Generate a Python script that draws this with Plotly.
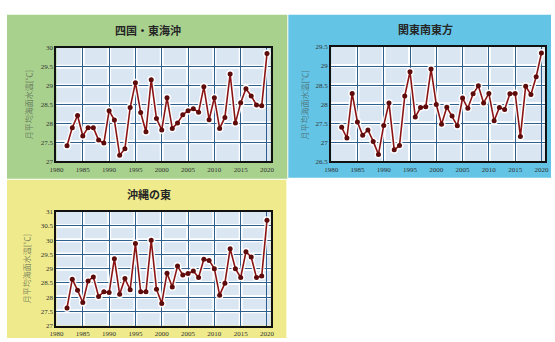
import plotly.graph_objects as go

# Annual sea surface temperature (August mean, °C) in three sea areas
years = list(range(1982, 2021))

shikoku_tokai = [27.41, 27.89, 28.21, 27.67, 27.89, 27.89, 27.56, 27.48, 28.34, 28.09,
                 27.16, 27.33, 28.42, 29.08, 28.29, 27.78, 29.16, 28.13, 27.83, 28.68,
                 27.87, 28.01, 28.23, 28.34, 28.39, 28.30, 28.97, 28.10, 28.68, 27.87,
                 28.16, 29.31, 28.01, 28.55, 28.92, 28.73, 28.49, 28.47, 29.85]

kanto_se = [27.39, 27.11, 28.28, 27.53, 27.18, 27.32, 27.02, 26.68, 27.44, 28.03,
            26.80, 26.91, 28.21, 28.85, 27.66, 27.91, 27.93, 28.92, 27.99, 27.47,
            27.92, 27.69, 27.43, 28.16, 27.89, 28.27, 28.48, 28.03, 28.28, 27.56,
            27.91, 27.86, 28.27, 28.28, 27.15, 28.47, 28.25, 28.72, 29.34]

okinawa_east = [27.62, 28.63, 28.24, 27.81, 28.57, 28.71, 28.02, 28.19, 28.16, 29.35,
                28.10, 28.65, 28.26, 29.88, 28.19, 28.19, 30.00, 28.28, 27.78, 28.84,
                28.36, 29.09, 28.78, 28.83, 28.92, 28.69, 29.33, 29.29, 29.00, 28.07,
                28.49, 29.70, 29.00, 28.69, 29.59, 29.41, 28.69, 28.74, 30.70]

titles = ["四国・東海沖", "関東南東方", "沖縄の東"]
y_label = "月平均海面水温[℃]"
x_ticks = list(range(1980, 2021, 5))

W, H = 555, 342


def px(x):
    return x / W


def py(y):
    return 1 - y / H


# panel geometry in pixels: background box, plot area, y range, colour
panels = [
    dict(data=shikoku_tokai, title=titles[0], box=(0, 11, 286, 179),
         area=(50.5, 45, 269, 161), yr=(27, 30), bg="#a9d18e",
         tpos=(144, 27), lpos=(22, 103)),
    dict(data=kanto_se, title=titles[1], box=(287, 11, 555, 178),
         area=(330.7, 44, 549, 161), yr=(26.5, 29.5), bg="#63c4e6",
         tpos=(427, 26), lpos=(304, 103)),
    dict(data=okinawa_east, title=titles[2], box=(0, 180, 285, 342),
         area=(50.5, 212.7, 269, 329.3), yr=(27, 31), bg="#efeb8c",
         tpos=(145, 195), lpos=(20, 271)),
]

fig = go.Figure()
shapes = []
annotations = []
xrange_ = [1980, 2020.7]

for i, p in enumerate(panels):
    n = "" if i == 0 else str(i + 1)
    xa, ya = "x" + n, "y" + n
    x0, y0, x1, y1 = p["area"]
    bx0, by0, bx1, by1 = p["box"]

    # coloured panel behind each chart
    shapes.append(dict(type="rect", xref="paper", yref="paper",
                       x0=px(bx0), x1=px(bx1), y0=py(by1), y1=py(by0),
                       fillcolor=p["bg"], line=dict(width=0), layer="below"))
    # plot area fill
    shapes.append(dict(type="rect", xref=xa + " domain", yref=ya + " domain",
                       x0=0, x1=1, y0=0, y1=1, fillcolor="#dbe6f3",
                       line=dict(width=0), layer="below"))
    # soft white edges around the grid lines
    for xv in range(1985, 2020, 5):
        shapes.append(dict(type="line", xref=xa, yref=ya + " domain",
                           x0=xv, x1=xv, y0=0, y1=1,
                           line=dict(color="rgba(255,255,255,0.95)", width=4),
                           layer="below"))
    lo, hi = p["yr"]
    v = lo + 0.5
    while v < hi - 1e-9:
        shapes.append(dict(type="line", xref=xa + " domain", yref=ya,
                           x0=0, x1=1, y0=v, y1=v,
                           line=dict(color="rgba(255,255,255,0.95)", width=4),
                           layer="below"))
        v += 0.5

    # white halo under the series
    fig.add_trace(go.Scatter(x=years, y=p["data"], mode="lines+markers",
                             line=dict(color="rgba(255,255,255,0.9)", width=4.5),
                             marker=dict(size=8, color="rgba(255,255,255,0.9)"),
                             xaxis=xa, yaxis=ya, hoverinfo="skip",
                             showlegend=False))
    fig.add_trace(go.Scatter(x=years, y=p["data"], mode="lines+markers",
                             line=dict(color="#8a1414", width=1.6),
                             marker=dict(size=5, color="#5e0b0b"),
                             xaxis=xa, yaxis=ya, name=p["title"],
                             showlegend=False))

    axis_font = dict(family="Liberation Serif, serif", size=7, color="#333333")
    fig.layout["xaxis" + n] = dict(
        domain=[px(x0), px(x1)], anchor=ya, range=xrange_,
        tickmode="array", tickvals=x_ticks, ticktext=[str(t) for t in x_ticks],
        showgrid=True, gridcolor="#2f5f8c", gridwidth=1.2,
        showline=True, linecolor="#111111", linewidth=2, mirror=True,
        ticks="", tickfont=axis_font, zeroline=False, fixedrange=True,
    )
    fig.layout["yaxis" + n] = dict(
        domain=[py(y1), py(y0)], anchor=xa, range=list(p["yr"]),
        dtick=0.5, tick0=p["yr"][0],
        showgrid=True, gridcolor="#2f5f8c", gridwidth=1.2,
        showline=True, linecolor="#111111", linewidth=2, mirror=True,
        ticks="", tickfont=axis_font, zeroline=False, fixedrange=True,
    )

    annotations.append(dict(text="<b>" + p["title"] + "</b>", xref="paper", yref="paper",
                            x=px(p["tpos"][0]), y=py(p["tpos"][1]), showarrow=False,
                            xanchor="center", yanchor="middle",
                            font=dict(family="Noto Sans CJK JP", size=11, color="#262626")))
    annotations.append(dict(text=y_label, xref="paper", yref="paper",
                            x=px(p["lpos"][0]), y=py(p["lpos"][1]), showarrow=False,
                            textangle=-90, xanchor="center", yanchor="middle",
                            font=dict(family="Noto Sans CJK JP", size=8,
                                      color="rgba(70,80,70,0.65)")))

fig.update_layout(
    width=W, height=H, margin=dict(l=0, r=0, t=0, b=0),
    paper_bgcolor="white", plot_bgcolor="rgba(0,0,0,0)",
    shapes=shapes, annotations=annotations, showlegend=False,
)

fig.write_html("out.html")
